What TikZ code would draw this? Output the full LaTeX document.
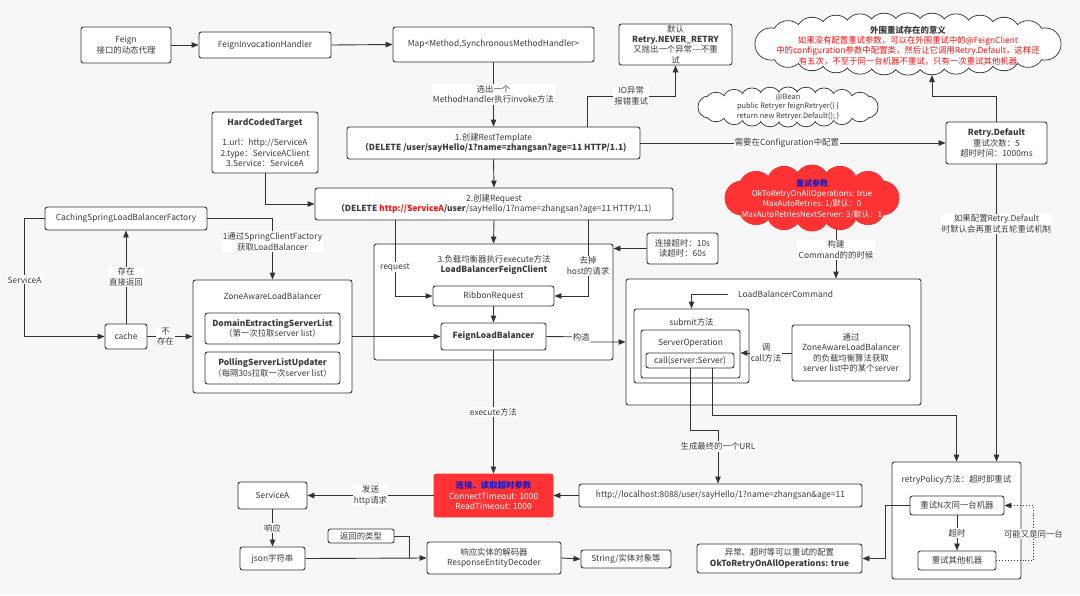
\documentclass[tikz,border=0pt]{standalone}
\usepackage{fontspec}
\setmainfont{Noto Sans CJK SC}
\usetikzlibrary{arrows.meta,calc}
\definecolor{bg}{HTML}{F7F7F7}
\definecolor{ln}{HTML}{333333}
\definecolor{tx}{HTML}{3A3A3A}
\definecolor{redf}{HTML}{FF3333}
\definecolor{redt}{HTML}{FF1010}
\definecolor{bluet}{HTML}{1A1AC8}
\newcommand\fs{\fontsize{8.4}{10.4}\selectfont}
\newcommand\fsm{\fontsize{7.4}{9.6}\selectfont}
\tikzset{
  box/.style={draw=ln, fill=white, rounded corners=2.5pt, line width=0.9pt, align=center, inner sep=1pt, text=tx, font=\fs},
  plain/.style={align=center, inner sep=1pt, text=tx, font=\fs},
  conn/.style={draw=ln, line width=0.9pt, -{Triangle[length=7pt,width=5.5pt]}},
  lbl/.style={fill=white, inner sep=1.2pt, align=center, text=tx, font=\fs},
  cloudline/.style={draw=ln, fill=white, line width=0.9pt},
  cloudred/.style={draw=redf, fill=redf, line width=0.9pt},
}
% #1 centre, #2 a, #3 b, #4 puff radius, #5 inner radius, #6 x list, #7 outline style, #8 fill colour
\newcommand\cloudblob[8]{%
  \foreach \px in {#6} {
    \draw[#7] ($(#1)+(\px,{-#3*sqrt(1-(\px/#2)^2)})$) circle[radius=#4];
    \draw[#7] ($(#1)+(\px,{#3*sqrt(1-(\px/#2)^2)})$) circle[radius=#4];
  }
  \draw[#7] ($(#1)+(#2,0)$) circle[radius=#4];
  \draw[#7] ($(#1)+(-#2,0)$) circle[radius=#4];
  \foreach \px in {#6} {
    \fill[#8] ($(#1)+(\px,{-#3*sqrt(1-(\px/#2)^2)})$) circle[radius=#5];
    \fill[#8] ($(#1)+(\px,{#3*sqrt(1-(\px/#2)^2)})$) circle[radius=#5];
  }
  \fill[#8] ($(#1)+(#2,0)$) circle[radius=#5];
  \fill[#8] ($(#1)+(-#2,0)$) circle[radius=#5];
  \fill[#8] (#1) ellipse[x radius=#2, y radius=#3];
}
\begin{document}
\begin{tikzpicture}[x=1pt,y=-1pt]
\fill[bg] (0,0) rectangle (1080,595);
\useasboundingbox (0,0) rectangle (1080,595);

% top row
\node[box, minimum width=90pt, minimum height=36pt] (feign) at (126,45) {Feign\\接口的动态代理};
\node[box, minimum width=132pt, minimum height=26pt] (fih) at (265,45) {FeignInvocationHandler};
\node[box, minimum width=201pt, minimum height=35pt] (map) at (493.5,44.5) {Map<Method,SynchronousMethodHandler>};
\node[box, inner sep=0pt, minimum width=113pt, minimum height=41pt] (never) at (675.5,44.5) {默认\\\textbf{Retry.NEVER\_RETRY}\\又抛出一个异常-{}-{}-不重\\试};

% clouds
\coordinate (topcloud) at (908,44);
\cloudblob{topcloud}{137}{15}{16}{15.5}{-120,-96,-72,-48,-24,0,24,48,72,96,120}{cloudline}{white}
\node[plain] (topcloudtxt) at (908,45.5) {\textbf{外围重试存在的意义}\\\textcolor{redt}{如果没有配置重试参数，可以在外围重试中的@FeignClient}\\\textcolor{redt}{中的configuration参数中配置类，然后让它调用Retry.Default，这样还}\\\textcolor{redt}{有五次，不至于同一台机器不重试，只有一次重试其他机器}};

\coordinate (beancloud) at (788,107);
\cloudblob{beancloud}{79}{9}{11}{10.5}{-72,-54,-36,-18,0,18,36,54,72}{cloudline}{white}
\node[plain, font=\fsm] (beantxt) at (788,107) {@Bean\\public Retryer feignRetryer() \{\\return new Retryer.Default(); \}};

\coordinate (redcloud) at (812,198);
\cloudblob{redcloud}{70}{16}{17}{16.5}{-56,-28,0,28,56}{cloudred}{redf}
\node[plain, font=\fontsize{8}{10.2}\selectfont] (redcloudtxt) at (812,199) {\textcolor{bluet}{\textbf{重试参数}}\\\textcolor{white}{OkToRetryOnAllOperations: true}\\\textcolor{white}{MaxAutoRetries: 1/默认：0}\\\textcolor{white}{MaxAutoRetriesNextServer: 3/默认：1}};

\node[box, minimum width=293pt, minimum height=32pt] (rest) at (493.5,143) {1.创建RestTemplate\\\textbf{（DELETE /user/sayHello/1?name=zhangsan?age=11 HTTP/1.1)}};
\node[box, minimum width=106pt, minimum height=61pt] (hct) at (265,142.5) {\textbf{HardCodedTarget}\\[10pt]1.url：http://ServiceA\\2.type：ServiceAClient\\3.Service：ServiceA};
\node[box, minimum width=101pt, minimum height=42pt] (rdef) at (996.5,143) {\textbf{Retry.Default}\\重试次数：5\\超时时间：1000ms};

\node[box, minimum width=358pt, minimum height=32pt] (req) at (494,204) {2.创建Request\\\textbf{（DELETE }\textcolor{redt}{\textbf{http://ServiceA}}\textbf{/user}/sayHello/1?name=zhangsan?age=11 HTTP/1.1)};

% left middle
\node[box, minimum width=162pt, minimum height=23pt] (csf) at (126,218.5) {CachingSpringLoadBalancerFactory};
\node[box, minimum width=159pt, minimum height=113pt] (zone) at (272.5,336.5) {};
\node[plain] (zonet) at (272.5,296) {ZoneAwareLoadBalancer};
\node[box, minimum width=135pt, minimum height=31pt] (dom) at (272.5,328.5) {\textbf{DomainExtractingServerList}\\（第一次拉取server list）};
\node[box, minimum width=135pt, minimum height=32pt] (poll) at (272.5,368) {\textbf{PollingServerListUpdater}\\（每隔30s拉取一次server list）};
\node[box, minimum width=42pt, minimum height=25pt] (cache) at (126,336.5) {cache};

% center
\node[box, minimum width=239pt, minimum height=116pt] (lbfc) at (493.5,302) {};
\node[plain] (lbfct) at (494,265) {3.负载均衡器执行execute方法\\\textbf{LoadBalancerFeignClient}};
\node[box, minimum width=121pt, minimum height=20pt] (ribbon) at (493.5,296) {RibbonRequest};
\node[box, minimum width=105pt, minimum height=27pt] (flb) at (493.5,336.5) {\textbf{FeignLoadBalancer}};
\node[box, minimum width=71pt, minimum height=31pt] (timeout) at (682.5,248.5) {连接超时：10s\\读超时：60s};

% LoadBalancerCommand
\node[box, minimum width=295pt, minimum height=126pt] (lbc) at (773.5,342) {};
\node[plain, anchor=west] (lbct) at (737,294) {LoadBalancerCommand};
\node[box, minimum width=115pt, minimum height=74pt] (submit) at (691.5,346) {};
\node[plain] (submitt) at (691.5,322) {submit方法};
\node[box, minimum width=99pt, minimum height=48pt] (serverop) at (690.5,354) {};
\node[plain] (serveropt) at (690.5,343) {ServerOperation};
\node[box, minimum width=88pt, minimum height=15pt] (call) at (690,360.5) {call(server:Server)};
\node[box, minimum width=118pt, minimum height=56pt] (zalb) at (851,353) {通过\\ZoneAwareLoadBalancer\\的负载均衡算法获取\\server list中的某个server};

% bottom
\node[box, draw=redf, fill=redf, minimum width=119pt, minimum height=43pt] (redbox) at (493.5,495.5) {\textcolor{bluet}{\textbf{连接、读取超时参数}}\\\textcolor{white}{ConnectTimeout: 1000}\\\textcolor{white}{ReadTimeout: 1000}};
\node[box, minimum width=283pt, minimum height=23pt] (localhost) at (720.5,495.5) {http://localhost:8088/user/sayHello/1?name=zhangsan\&age=11};
\node[box, minimum width=69pt, minimum height=27pt] (svca) at (272.5,495.5) {ServiceA};
\node[box, minimum width=65pt, minimum height=23pt] (json) at (272.5,558.5) {json字符串};
\node[box, minimum width=66pt, minimum height=14pt] (rettype) at (361,536) {返回的类型};
\node[box, minimum width=134pt, minimum height=32pt] (decoder) at (494,558) {响应实体的解码器\\ResponseEntityDecoder};
\node[box, minimum width=90pt, minimum height=18pt] (string) at (626,559) {String/实体对象等};
\node[box, minimum width=165pt, minimum height=29pt] (exc) at (779.5,558.5) {异常、超时等可以重试的配置\\\textbf{OkToRetryOnAllOperations: true}};

\node[box, minimum width=129pt, minimum height=117pt] (retry) at (956.5,520.5) {};
\node[plain] (retryt) at (956.5,480) {retryPolicy方法：超时即重试};
\node[box, minimum width=94pt, minimum height=19pt] (retryn) at (957,505.5) {重试N次同一台机器};
\node[box, minimum width=78pt, minimum height=19pt] (retryo) at (957,560.5) {重试其他机器};

% coordinates
\coordinate (io) at (587,96);
\coordinate (tc) at (932,96);
\coordinate (tcb) at (932,75);
\coordinate (rc) at (836,229);
\coordinate (jog) at (590,337);
\coordinate (u1) at (690,430);
\coordinate (u2) at (718,430);
\coordinate (v1) at (956.5,415);

% connectors
\draw[conn] (feign.east) -- (fih.west);
\draw[conn] (fih.east) -- (map.west);
\draw[conn] (map.south) -- node[lbl]{选出一个\\MethodHandler执行invoke方法} (rest.north);
\draw[conn] (rest.north -| io) -- (io) -- node[lbl]{IO异常\\报错重试} (io -| never.south) -- (never.south);
\draw[conn] (rest.east) -- node[lbl, pos=0.48]{需要在Configuration中配置} (rdef.west);
\draw[conn] (rdef.north) |- (tc) -- (tcb);
\draw[conn] (rest.south) -- (req.north);
\draw[conn] (hct.south) |- (req.west);
\draw[conn] (req.south) -- (lbfc.north);
\draw[conn] ([xshift=-99pt]req.south) |- node[lbl, pos=0.31]{request} (ribbon.west);
\draw[conn] ([xshift=94pt]req.south) |- node[lbl, pos=0.3]{去掉\\host的请求} (ribbon.east);
\draw[conn] (ribbon.south) -- (flb.north);
\draw[conn] (timeout.west) -- (lbfc.east |- timeout.west);
\draw[conn] (csf.east) -| node[lbl, pos=0.69]{1通过SpringClientFactory\\获取LoadBalancer} (zone.north);
\draw[conn] (csf.west) -- ++(-20,0) |- node[lbl, pos=0.26]{ServiceA} (cache.west);
\draw[conn] (cache.north) -- node[lbl]{存在\\直接返回} (csf.south);
\draw[conn] (cache.east) -- node[lbl, pos=0.4]{不\\存在} (zone.west);
\draw[conn] (zone.east) -- (flb.west);
\draw[conn] (flb.east) -- node[lbl, pos=0.8]{构造} (jog) -- (jog |- lbc.west) -- (lbc.west);
\draw[conn] (rc) -- node[lbl, pos=0.42]{构建\\Command的的时候} (rc |- lbc.north);
\draw[conn] ([xshift=-9pt]lbct.west) -| (submit.north);
\draw[conn] (zalb.west) -- node[lbl]{调\\call方法} (serverop.east |- zalb.west);
\draw[conn] (flb.south) -- node[lbl]{execute方法} (redbox.north);
\draw[conn] (call.south) -- (u1) -- (u2) -- node[lbl, pos=0.31]{生成最终的一个URL} (u2 |- localhost.north);
\draw[conn] ([xshift=22pt]call.south) |- (v1) -- (retry.north);
\draw[conn] (rdef.south) -- node[lbl, pos=0.2]{如果配置Retry.Default\\时默认会再重试五轮重试机制} (rdef.south |- retry.north);
\draw[conn] (localhost.west) -- (redbox.east);
\draw[conn] (redbox.west) -- node[lbl]{发送\\http请求} (svca.east);
\draw[conn] (svca.south) -- node[lbl]{响应} (json.north);
\draw[conn] (json.east) -- (decoder.west);
\draw[draw=ln, line width=0.9pt] (rettype.east) -| ([xshift=-17pt]decoder.west);
\draw[conn] (decoder.east) -- (string.west);
\draw[conn] (retryn.south) -- node[lbl]{超时} (retryo.north);
\draw[conn, dotted] (retryo.east) -- ++(37,0) |- node[lbl, pos=0.24]{可能又是同一台} (retryn.east);
\draw[conn] (retryn.west) -- ++(-24,0) |- (exc.east);
\end{tikzpicture}
\end{document}
